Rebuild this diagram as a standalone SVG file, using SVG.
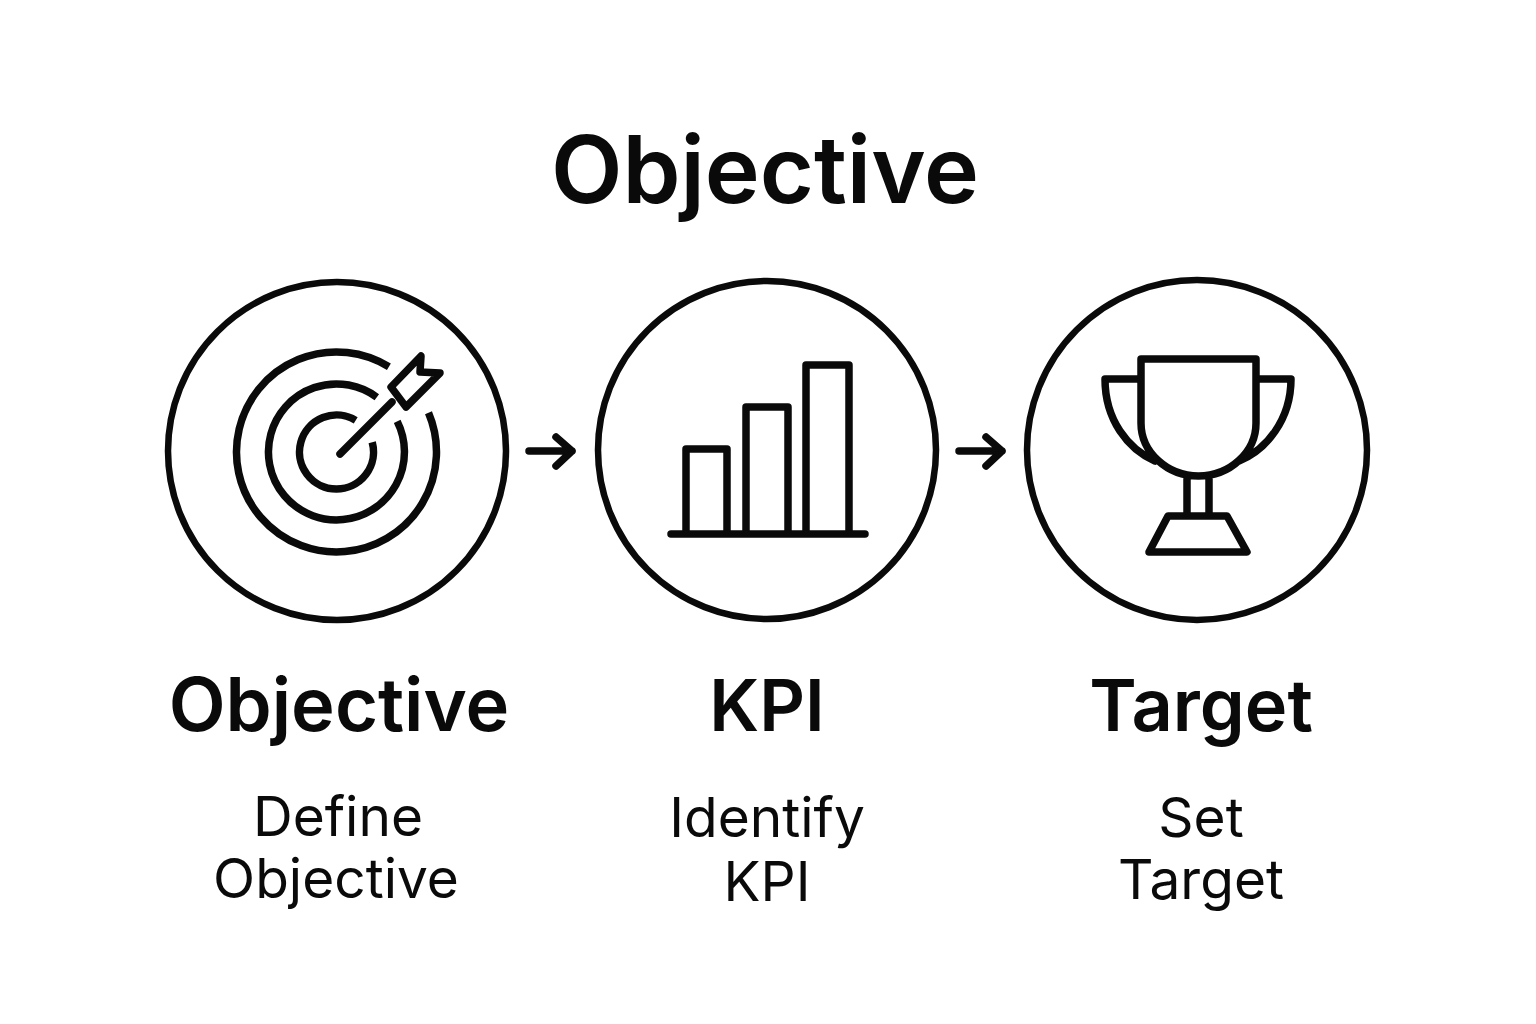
<svg xmlns="http://www.w3.org/2000/svg" width="1536" height="1024" viewBox="0 0 1536 1024">
<style>
.ring{fill:none;stroke:#0a0a0a;stroke-width:6.500}
.ic{fill:none;stroke:#0a0a0a;stroke-width:7.500;stroke-linejoin:round;stroke-linecap:round}
.ict{fill:none;stroke:#0a0a0a;stroke-width:7.500;stroke-linejoin:round;stroke-linecap:butt}
text{font-family:"Inter","Liberation Sans",sans-serif;fill:#0a0a0a;text-anchor:middle}
.h0{font-size:93px;font-weight:600}
.h1{font-size:74px;font-weight:600}
.d{font-size:55px;font-weight:400}
</style>
<rect width="1536" height="1024" fill="#fff"/>
<text id="title" class="h0" x="765" y="203">Objective</text>
<g id="node-objective">
<circle class="ring" cx="337" cy="451" r="169"/>
<path class="ict" d="M388.900 366.800A100 100 0 1 0 428.500 412.800M376.800 397.200A68 68 0 1 0 397.200 421.400M355.700 420.400A37 37 0 1 0 372.200 442.300"/>
<path class="ic" d="M340 454L392 402M391 387L421 356L420 372L440 373L406 407Z"/>
<text class="h1" x="339" y="731">Objective</text>
<text class="d"><tspan x="338" y="836">Define</tspan><tspan x="336" y="898">Objective</tspan></text>
</g>
<g id="node-kpi">
<circle class="ring" cx="767" cy="450" r="169"/>
<path class="ic" d="M686 534V449H727V534M746 534V407H788V534M806 534V365H849V534M671 534H865"/>
<text class="h1" x="767" y="731" style="font-size:71px">KPI</text>
<text class="d"><tspan x="767" y="837">Identify</tspan><tspan x="767" y="901">KPI</tspan></text>
</g>
<g id="node-target">
<circle class="ring" cx="1197" cy="450" r="170"/>
<path class="ic" d="M1141 423V359H1256V423C1256 452 1230 476 1198.500 476C1167 476 1141 452 1141 423ZM1141 379H1105C1105 420 1128 449 1155 461M1256 379H1291C1291 420 1266 450 1239 461M1187 476V516M1209 476V516M1168 516H1227L1247 552H1149Z"/>
<text class="h1" x="1201" y="731" style="font-size:72px">Target</text>
<text class="d"><tspan x="1201" y="837">Set</tspan><tspan x="1201" y="899">Target</tspan></text>
</g>
<g id="connectors">
<path class="ic" d="M529 451H572M556 437L572 451L556 466"/>
<path class="ic" d="M959 451H1002M986 437L1002 451L986 466"/>
</g>
</svg>
